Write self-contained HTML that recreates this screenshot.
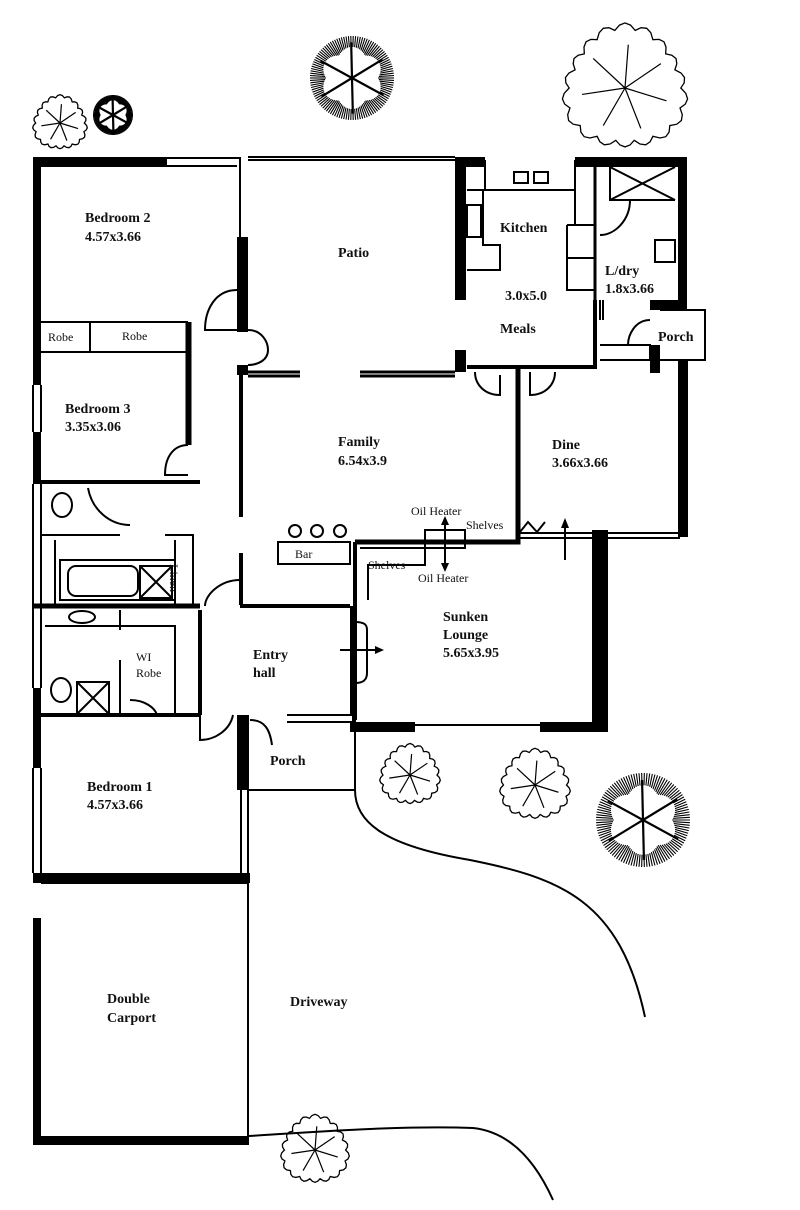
<!DOCTYPE html>
<html><head><meta charset="utf-8"><style>
html,body{margin:0;padding:0;background:#fff;}
svg{display:block}
text{font-family:"Liberation Serif",serif;font-weight:bold;font-size:14px;fill:#111}
.s{font-weight:normal;font-size:12px}
</style></head><body>
<svg id="svg" width="800" height="1210" viewBox="0 0 800 1210" xmlns="http://www.w3.org/2000/svg">
<g fill="#000">
<rect x="33" y="157" width="134" height="10"/>
<rect x="33" y="157" width="8" height="228"/>
<rect x="33" y="432" width="8" height="52"/>
<rect x="33" y="688" width="8" height="80"/>
<rect x="33" y="873" width="217" height="10"/>
<rect x="237" y="237" width="11" height="95"/>
<rect x="237" y="365" width="11" height="10"/>
<rect x="455" y="157" width="30" height="10"/>
<rect x="575" y="157" width="112" height="10"/>
<rect x="455" y="157" width="11" height="143"/>
<rect x="455" y="350" width="11" height="22"/>
<rect x="678" y="157" width="9" height="147"/>
<rect x="650" y="300" width="37" height="10"/>
<rect x="650" y="345" width="10" height="28"/>
<rect x="678" y="360" width="10" height="177"/>
<rect x="592" y="530" width="16" height="202"/>
<rect x="350" y="722" width="65" height="10"/>
<rect x="540" y="722" width="68" height="10"/>
<rect x="33" y="918" width="8" height="227"/>
<rect x="33" y="1136" width="216" height="9"/>
<rect x="237" y="715" width="12" height="75"/>
</g>
<g fill="none" stroke="#000" stroke-width="2">
<path d="M167 158H240V237M167 166H237"/>
<path d="M248 157H455M248 160H455"/>
<path d="M33 385V432M41 385V432M33 484V688M41 484V688M33 768V873M41 768V873"/>
<path d="M41 322H187V352H41M90 322V352"/>
<path d="M187 322V445M190 322V445" stroke-width="3"/>
<path d="M41 482H200" stroke-width="4"/>
<path d="M248 372H300M360 372H455M248 376H300M360 376H455" stroke-width="3"/>
<path d="M241 367V517M241 553V605" stroke-width="4"/>
<path d="M41 535H120M165 535H193V605M175 540V605"/>
<path d="M55 540V605M60 560H175V600H60Z"/>
<rect x="68" y="566" width="70" height="30" rx="8"/>
<rect x="140" y="566" width="32" height="32"/><path d="M140 566L172 598M172 566L140 598"/>
<path d="M33 606H200" stroke-width="5"/>
<path d="M45 626H175V715M120 610V630M120 660V715"/>
<rect x="77" y="682" width="32" height="32"/><path d="M77 682L109 714M109 682L77 714"/>
<path d="M41 715H200" stroke-width="4"/>
<path d="M200 610V715" stroke-width="4"/>
<path d="M240 606H350" stroke-width="4"/>
<path d="M352 606V715M354 715V732" stroke-width="4"/>
<path d="M355 545V600" stroke-width="4"/>
<path d="M248 790H355M248 790V1145M287 715H352M287 722H352"/>
<path d="M241 790V873"/>
<path d="M355 732V790C355 820 380 845 470 860C560 878 620 900 645 1017"/>
<path d="M249 1136C300 1133 400 1125 473 1128C510 1132 535 1160 553 1200"/>
<path d="M41 883H248M248 883V1145"/>
<path d="M355 542H518V365" stroke-width="5"/>
<path d="M520 533H592M520 538H680M608 533H680"/>
<path d="M355 542V720" stroke-width="4"/>
<path d="M415 725H540"/>
<path d="M360 548H425V565H368V600" />
<path d="M425 530H465V548H425Z"/>
<path d="M355 622C365 622 367 625 367 630V673C367 680 363 683 355 683"/>
<rect x="278" y="542" width="72" height="22"/>
<circle cx="295" cy="531" r="6"/><circle cx="317" cy="531" r="6"/><circle cx="340" cy="531" r="6"/>
<path d="M485 160V190H575V160M575 167V225M567 225H595V290H567V225M567 258H595"/>
<rect x="514" y="172" width="14" height="11"/><rect x="534" y="172" width="14" height="11"/>
<path d="M467 190H483V245H500V270H467"/>
<rect x="467" y="205" width="14" height="32"/>
<path d="M467 367H595V300" stroke-width="4"/>
<path d="M595 167V300" stroke-width="3"/>
<path d="M610 167V200H675M610 167L675 200M675 167L610 200M680 167V300"/>
<rect x="655" y="240" width="20" height="22"/>
<path d="M600 345H650V360H600M660 310H705V360H660"/>
<path d="M600 300V320M603 300V320"/>
<path d="M237 290C215 290 205 310 205 330H237"/>
<path d="M248 330C262 330 268 342 268 350C268 360 258 365 248 365"/>
<path d="M188 445C175 445 165 455 165 475H188"/>
<path d="M88 488C92 510 110 525 130 525"/>
<path d="M240 580C220 580 205 595 205 606"/>
<path d="M200 710V740C215 740 230 730 233 715"/>
<path d="M250 720C265 720 270 730 272 745"/>
<path d="M130 700C145 700 155 708 157 715"/>
<path d="M475 372C475 385 485 395 500 395V375"/>
<path d="M530 372V395C545 395 555 385 555 372"/>
<path d="M630 200C630 220 615 235 600 235"/>
<path d="M650 320C635 320 628 335 628 345H650"/>
<path d="M520 532L528 522L537 532L545 522"/>
<path d="M565 560V520"/>
<path d="M445 520V568"/>
<path d="M340 650H380"/>
</g>
<g fill="#000">
<path d="M441 525L445 516L449 525Z"/><path d="M441 563L445 572L449 563Z"/><path d="M375 646L384 650L375 654Z"/><path d="M561 528L565 518L569 528Z"/>
<ellipse cx="62" cy="505" rx="10" ry="12" fill="none" stroke="#000" stroke-width="2"/>
<ellipse cx="61" cy="690" rx="10" ry="12" fill="none" stroke="#000" stroke-width="2"/>
<ellipse cx="82" cy="617" rx="13" ry="6" fill="none" stroke="#000" stroke-width="2"/>
</g>
<g id="trees" fill="none" stroke="#000"></g>
<text x="85" y="222">Bedroom 2</text><text x="85" y="241">4.57x3.66</text>
<text x="338" y="257">Patio</text>
<text class="s" x="48" y="341" font-size="11">Robe</text><text class="s" x="122" y="340" font-size="11">Robe</text>
<text x="65" y="413">Bedroom 3</text><text x="65" y="431">3.35x3.06</text>
<text x="338" y="446">Family</text><text x="338" y="465">6.54x3.9</text>
<text x="500" y="232">Kitchen</text>
<text x="505" y="300">3.0x5.0</text>
<text x="500" y="333">Meals</text>
<text x="605" y="275">L/dry</text><text x="605" y="293">1.8x3.66</text>
<text x="658" y="341">Porch</text>
<text x="552" y="449">Dine</text><text x="552" y="467">3.66x3.66</text>
<text class="s" x="411" y="515" font-size="11">Oil Heater</text>
<text class="s" x="466" y="529" font-size="11">Shelves</text>
<text class="s" x="368" y="569" font-size="11">Shelves</text>
<text class="s" x="418" y="582" font-size="11">Oil Heater</text>
<text class="s" x="295" y="558" font-size="11">Bar</text>
<text class="s" x="189" y="575" font-size="10" transform="rotate(90 185 560)">Linen</text>
<text class="s" x="136" y="661" font-size="11">WI</text><text class="s" x="136" y="677" font-size="11">Robe</text>
<text x="253" y="659">Entry</text><text x="253" y="677">hall</text>
<text x="443" y="621">Sunken</text><text x="443" y="639">Lounge</text><text x="443" y="657">5.65x3.95</text>
<text x="270" y="765">Porch</text>
<text x="87" y="791">Bedroom 1</text><text x="87" y="809">4.57x3.66</text>
<text x="107" y="1003">Double</text><text x="107" y="1022">Carport</text>
<text x="290" y="1006">Driveway</text>
</svg>
<script>
(function(){
var g=document.getElementById('trees'),NS='http://www.w3.org/2000/svg';
function el(n,a){var e=document.createElementNS(NS,n);for(var k in a)e.setAttribute(k,a[k]);g.appendChild(e);return e;}
function cloud(cx,cy,r){var d='',n=18;for(var i=0;i<=n*4;i++){var t=i/(n*4)*Math.PI*2;var rr=r*(0.9+0.1*Math.abs(Math.sin(t*n/2))+0.05*Math.sin(t*3));d+=(i?'L':'M')+(cx+rr*Math.cos(t)).toFixed(1)+' '+(cy+rr*Math.sin(t)).toFixed(1);}
el('path',{d:d+'Z','stroke-width':1.3});
for(var j=0;j<7;j++){var a=j/7*Math.PI*2+0.3;el('path',{d:'M'+cx+' '+cy+'L'+(cx+r*0.7*Math.cos(a))+' '+(cy+r*0.7*Math.sin(a)),'stroke-width':1.2});}}
function sun(cx,cy,r,w){for(var i=0;i<110;i++){var a=i/110*Math.PI*2;var f=0.62+0.12*Math.abs(Math.sin(a*3));el('path',{d:'M'+(cx+r*f*Math.cos(a))+' '+(cy+r*f*Math.sin(a))+'L'+(cx+r*Math.cos(a))+' '+(cy+r*Math.sin(a)),'stroke-width':w});}
for(var j=0;j<6;j++){var b=j/6*Math.PI*2+0.5;el('path',{d:'M'+cx+' '+cy+'L'+(cx+r*0.85*Math.cos(b))+' '+(cy+r*0.85*Math.sin(b)),'stroke-width':2.2});}}
sun(352,78,42,1.1);sun(113,115,20,1.2);sun(643,820,47,1.1);
cloud(625,88,62);cloud(60,123,27);cloud(410,775,30);cloud(535,785,35);cloud(315,1150,34);
})();
</script>
</body></html>
